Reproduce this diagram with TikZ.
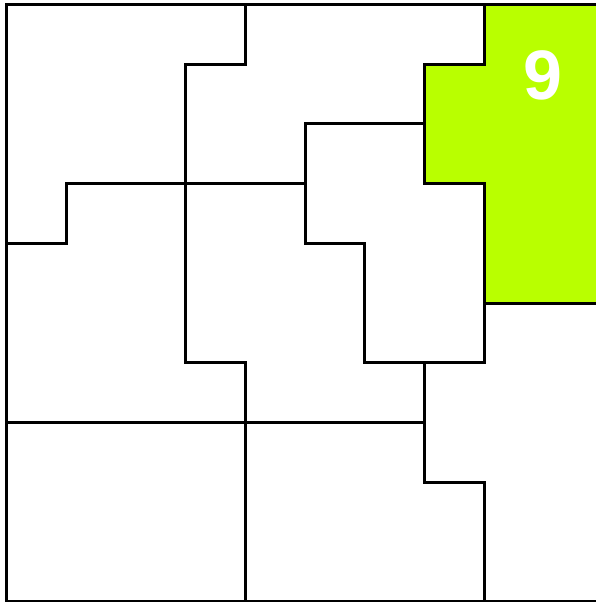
\documentclass[tikz,border=0pt]{standalone}
\usepackage{fontspec}
\setmainfont{Liberation Sans}
\definecolor{limegreen}{RGB}{185,255,0}
\begin{document}
\begin{tikzpicture}[x=1pt,y=-1pt,
  wall/.style={line width=3pt, line join=miter, line cap=rect, black},
  numlabel/.style={text=white, font=\bfseries\fontsize{70}{70}\selectfont, inner sep=0pt}]
\useasboundingbox (0,0) rectangle (596,602);
\clip (0,0) rectangle (596,602);
\begin{scope}[shift={(6.5,4.5)}, x=59.7pt, y=-59.7pt]
  % green region
  \fill[limegreen] (8,0) -- (8,1) -- (7,1) -- (7,3) -- (8,3) -- (8,5) -- (10,5) -- (10,0) -- cycle;
  % outer border
  \draw[wall] (0,0) rectangle (10,10);
  % internal walls
  \draw[wall] (4,0) -- (4,1) -- (3,1) -- (3,6) -- (4,6) -- (4,10);
  \draw[wall] (0,4) -- (1,4) -- (1,3) -- (5,3);
  \draw[wall] (7,2) -- (5,2) -- (5,4) -- (6,4) -- (6,6) -- (8,6) -- (8,5);
  \draw[wall] (8,0) -- (8,1) -- (7,1) -- (7,3) -- (8,3) -- (8,5) -- (10,5);
  \draw[wall] (7,6) -- (7,8) -- (8,8) -- (8,10);
  \draw[wall] (0,7) -- (7,7);
\end{scope}
\node[numlabel] (nine) at (543,75) {9};
\end{tikzpicture}
\end{document}
